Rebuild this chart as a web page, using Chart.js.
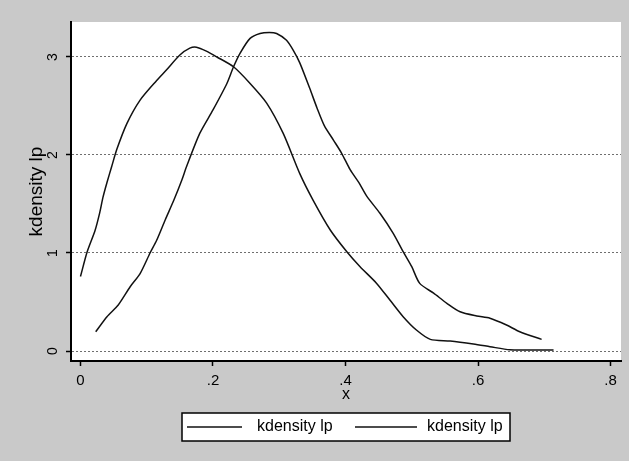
<!DOCTYPE html>
<html>
<head>
<meta charset="utf-8">
<script src="https://cdn.jsdelivr.net/npm/chart.js@4.4.1/dist/chart.umd.min.js"></script>
<style>
  html, body { margin:0; padding:0; background:#c9c9c9; }
  canvas { display:block; }
</style>
</head>
<body>
<canvas id="kd" width="629" height="461"></canvas>
<script>
// kernel density estimates of lp, two groups
const lpA_x = [0.000, 0.010, 0.022, 0.029, 0.034, 0.040, 0.047, 0.055, 0.070, 0.090, 0.115, 0.130, 0.150, 0.165, 0.175, 0.190, 0.206, 0.231, 0.256, 0.281, 0.306, 0.331, 0.351, 0.377, 0.402, 0.422, 0.447, 0.467, 0.487, 0.507, 0.528, 0.558, 0.593, 0.618, 0.648, 0.680, 0.714];
const lpA_y = [0.76, 1.01, 1.23, 1.41, 1.57, 1.72, 1.88, 2.06, 2.32, 2.56, 2.76, 2.87, 3.02, 3.09, 3.10, 3.06, 3.00, 2.90, 2.73, 2.53, 2.22, 1.81, 1.54, 1.235, 1.013, 0.86, 0.69, 0.52, 0.35, 0.214, 0.119, 0.102, 0.071, 0.044, 0.012, 0.01, 0.01];
const lpB_x = [0.023, 0.040, 0.057, 0.075, 0.090, 0.105, 0.115, 0.128, 0.141, 0.153, 0.160, 0.180, 0.200, 0.221, 0.231, 0.241, 0.256, 0.271, 0.285, 0.296, 0.311, 0.321, 0.331, 0.346, 0.357, 0.368, 0.382, 0.394, 0.407, 0.420, 0.432, 0.452, 0.472, 0.487, 0.500, 0.512, 0.533, 0.553, 0.573, 0.598, 0.618, 0.643, 0.663, 0.696];
const lpB_y = [0.197, 0.35, 0.47, 0.656, 0.79, 1.00, 1.13, 1.34, 1.54, 1.745, 1.88, 2.22, 2.46, 2.73, 2.90, 3.04, 3.19, 3.24, 3.25, 3.24, 3.17, 3.07, 2.94, 2.68, 2.48, 2.30, 2.15, 2.02, 1.85, 1.72, 1.58, 1.405, 1.20, 1.013, 0.86, 0.69, 0.59, 0.487, 0.40, 0.357, 0.334, 0.265, 0.197, 0.119];
const seriesLabels = ['kdensity lp', 'kdensity lp'];
const xTicks = [0, 0.2, 0.4, 0.6, 0.8];
const xTickLabels = ['0', '.2', '.4', '.6', '.8'];
const yTicks = [0, 1, 2, 3];
const yTickLabels = ['0', '1', '2', '3'];
const xTitle = 'x';
const yTitle = 'kdensity lp';

const FONT = '"Liberation Sans", Arial, sans-serif';
const pts = (xs, ys) => xs.map((x, i) => ({ x, y: ys[i] }));

// gray page, white plot region
const backdrop = {
  id: 'backdrop',
  beforeDraw(chart) {
    const { ctx, chartArea: a } = chart;
    ctx.save();
    ctx.fillStyle = '#c9c9c9';
    ctx.fillRect(0, 0, chart.width, chart.height);
    ctx.fillStyle = '#fff';
    ctx.fillRect(a.left, a.top, a.right - a.left, a.bottom - a.top);
    ctx.restore();
  }
};

// vertical y labels and title, plus the framed legend underneath
const extras = {
  id: 'extras',
  afterDraw(chart) {
    const { ctx, chartArea: a } = chart;
    const ys = chart.scales.y;
    ctx.save();
    ctx.fillStyle = '#000';
    ctx.textAlign = 'center';
    ctx.textBaseline = 'middle';
    ctx.font = '14px ' + FONT;
    ys.ticks.forEach((t, i) => {
      const py = ys.getPixelForValue(t.value);
      ctx.save();
      ctx.translate(53, py);
      ctx.rotate(-Math.PI / 2);
      ctx.fillText(yTickLabels[i], 0, 0);
      ctx.restore();
    });
    ctx.font = '19px ' + FONT;
    ctx.save();
    ctx.translate(37, (a.top + a.bottom) / 2);
    ctx.rotate(-Math.PI / 2);
    ctx.fillText(yTitle, 0, 0);
    ctx.restore();

    // legend
    const box = { l: 182, t: 413, r: 510, b: 441 };
    ctx.fillStyle = '#fff';
    ctx.fillRect(box.l, box.t, box.r - box.l, box.b - box.t);
    ctx.strokeStyle = '#000';
    ctx.lineWidth = 1.5;
    ctx.strokeRect(box.l, box.t, box.r - box.l, box.b - box.t);
    const cy = (box.t + box.b) / 2;
    const slots = [{ x0: 187, x1: 242, tx: 257 }, { x0: 355, x1: 417, tx: 427 }];
    chart.data.datasets.forEach((ds, i) => {
      const s = slots[i];
      ctx.strokeStyle = ds.borderColor;
      ctx.lineWidth = ds.borderWidth;
      ctx.beginPath();
      ctx.moveTo(s.x0, cy);
      ctx.lineTo(s.x1, cy);
      ctx.stroke();
      ctx.fillStyle = '#000';
      ctx.font = '16px ' + FONT;
      ctx.textAlign = 'left';
      ctx.fillText(ds.label, s.tx, cy);
    });
    ctx.restore();
  }
};

new Chart(document.getElementById('kd'), {
  type: 'scatter',
  data: {
    datasets: [
      { label: seriesLabels[0], data: pts(lpA_x, lpA_y), showLine: true, borderColor: '#111', borderWidth: 1.5, pointRadius: 0, tension: 0.25 },
      { label: seriesLabels[1], data: pts(lpB_x, lpB_y), showLine: true, borderColor: '#111', borderWidth: 1.5, pointRadius: 0, tension: 0.25 }
    ]
  },
  options: {
    responsive: false,
    animation: false,
    events: [],
    layout: { padding: { top: 22, right: 8, left: 0, bottom: 0 } },
    plugins: { legend: { display: false }, tooltip: { enabled: false } },
    scales: {
      x: {
        type: 'linear',
        min: -0.0143,
        max: 0.8158,
        afterBuildTicks: s => { s.ticks = xTicks.map(v => ({ value: v })); },
        afterFit: s => { s.height = 100; },
        grid: { drawOnChartArea: false, drawTicks: true, tickLength: 5, tickColor: '#000', tickWidth: 1.5 },
        border: { display: true, color: '#000', width: 2 },
        ticks: {
          color: '#000',
          padding: 6,
          maxRotation: 0,
          font: { family: FONT, size: 15 },
          callback: (v, i) => xTickLabels[i]
        },
        title: { display: true, text: xTitle, color: '#000', font: { family: FONT, size: 16 }, padding: { top: 0, bottom: 57 } }
      },
      y: {
        type: 'linear',
        min: -0.102,
        max: 3.357,
        afterBuildTicks: s => { s.ticks = yTicks.map(v => ({ value: v })); },
        afterFit: s => { s.width = 71; },
        grid: { color: '#6f6f6f', lineWidth: 1, drawTicks: true, tickLength: 5, tickColor: '#000', tickWidth: 1.5 },
        border: { display: true, color: '#000', width: 2, dash: [2, 2] },
        ticks: { display: false }
      }
    }
  },
  plugins: [backdrop, extras]
});
</script>
</body>
</html>
